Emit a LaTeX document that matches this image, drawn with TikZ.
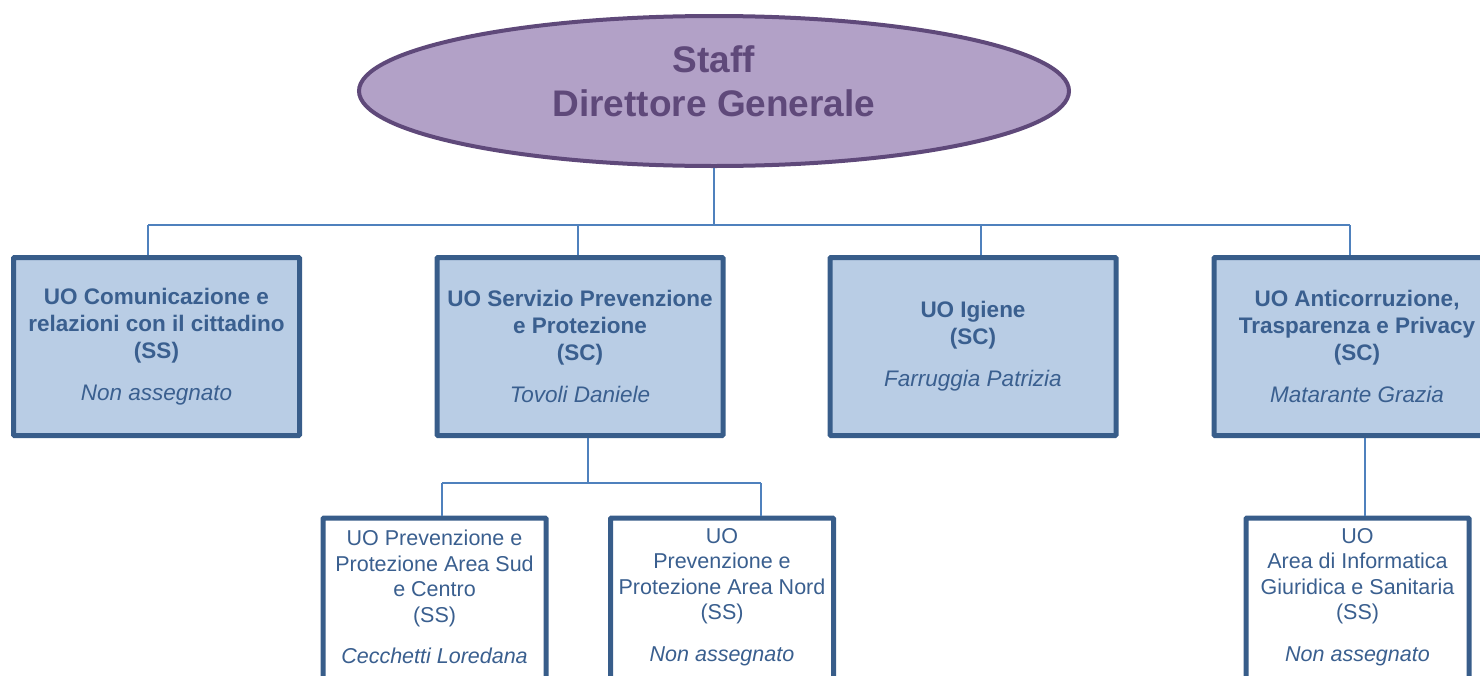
\documentclass[tikz,border=0pt]{standalone}
\usepackage{fontspec}
\setmainfont{Liberation Sans}
\usetikzlibrary{shapes,positioning}

\definecolor{dgfill}{HTML}{B2A1C7}
\definecolor{dgline}{HTML}{5F497A}
\definecolor{uofill}{HTML}{B9CDE5}
\definecolor{uoline}{HTML}{385D8A}
\definecolor{uotext}{HTML}{3A5F8F}
\definecolor{link}{HTML}{4F81BD}

\begin{document}
\begin{tikzpicture}[x=1pt,y=-1pt]
        \tikzstyle{staff}=[ellipse,line width=4pt,draw=dgline,fill=dgfill,minimum width=710pt,minimum height=150pt]
        \tikzstyle{stafftext}=[text=dgline,align=center,yshift=9.5pt,font=\fontsize{37}{44}\selectfont\bfseries]
        \tikzstyle{unit}=[rectangle,rounded corners=1pt,line width=5pt,draw=uoline,fill=uofill,text=uotext,align=center,minimum width=286pt,minimum height=178pt,font=\fontsize{22.5}{27}\selectfont\bfseries]
        \tikzstyle{subunit}=[rectangle,rounded corners=1pt,line width=5pt,draw=uoline,fill=white,minimum width=223pt,minimum height=170pt,anchor=north]
        \tikzstyle{subtext}=[text=uotext,align=center,yshift=6pt,font=\fontsize{21.5}{25.5}\selectfont]
        \tikzstyle{wire}=[draw=link,line width=2pt]

        \clip (0,0) rectangle (1480,675);

        \node [staff, label={[stafftext]center:{Staff\\Direttore Generale}}] (dg) at (714,91) {}; %top

        \node [unit] (uo1) at (156.5,346.5) {UO Comunicazione e\\relazioni con il cittadino\\(SS)\\[15pt]{\mdseries\itshape Non assegnato}};
        \node [unit] (uo2) at (580,346.5) {UO Servizio Prevenzione\\e Protezione\\(SC)\\[15pt]{\mdseries\itshape Tovoli Daniele}};
        \node [unit] (uo3) at (973,346.5) {UO Igiene\\(SC)\\[15pt]{\mdseries\itshape Farruggia Patrizia}};
        \node [unit] (uo4) at (1357,346.5) {UO Anticorruzione,\\Trasparenza e Privacy\\(SC)\\[15pt]{\mdseries\itshape Matarante Grazia}};

        \node [subunit, label={[subtext]center:{UO Prevenzione e\\Protezione Area Sud\\e Centro\\(SS)\\[16pt]{\itshape Cecchetti Loredana}}}] (uo21) at (434.5,515.5) {};
        \node [subunit, label={[subtext]center:{UO\\Prevenzione e\\Protezione Area Nord\\(SS)\\[16pt]{\itshape Non assegnato}}}] (uo22) at (722,515.5) {};
        \node [subunit, label={[subtext]center:{UO\\Area di Informatica\\Giuridica e Sanitaria\\(SS)\\[16pt]{\itshape Non assegnato}}}] (uo41) at (1357.5,515.5) {};

        % bus lines
        \coordinate (bus) at (714,225);
        \coordinate (b1) at (148,225);
        \coordinate (b2) at (578,225);
        \coordinate (b3) at (981,225);
        \coordinate (b4) at (1350,225);
        \coordinate (s2) at (588,483);
        \coordinate (s21) at (442,483);
        \coordinate (s22) at (761,483);
        \coordinate (s4) at (1365,483);

        \draw [wire] (dg.south) -- (bus);
        \draw [wire] (b1) -- (b4);
        \draw [wire] (b1) -- (b1 |- uo1.north);
        \draw [wire] (b2) -- (b2 |- uo2.north);
        \draw [wire] (b3) -- (b3 |- uo3.north);
        \draw [wire] (b4) -- (b4 |- uo4.north);

        \draw [wire] (s2 |- uo2.south) -- (s2);
        \draw [wire] (s21) -- (s22);
        \draw [wire] (s21) -- (s21 |- uo21.north);
        \draw [wire] (s22) -- (s22 |- uo22.north);

        \draw [wire] (s4 |- uo4.south) -- (s4 |- uo41.north); %right
\end{tikzpicture}
\end{document}
